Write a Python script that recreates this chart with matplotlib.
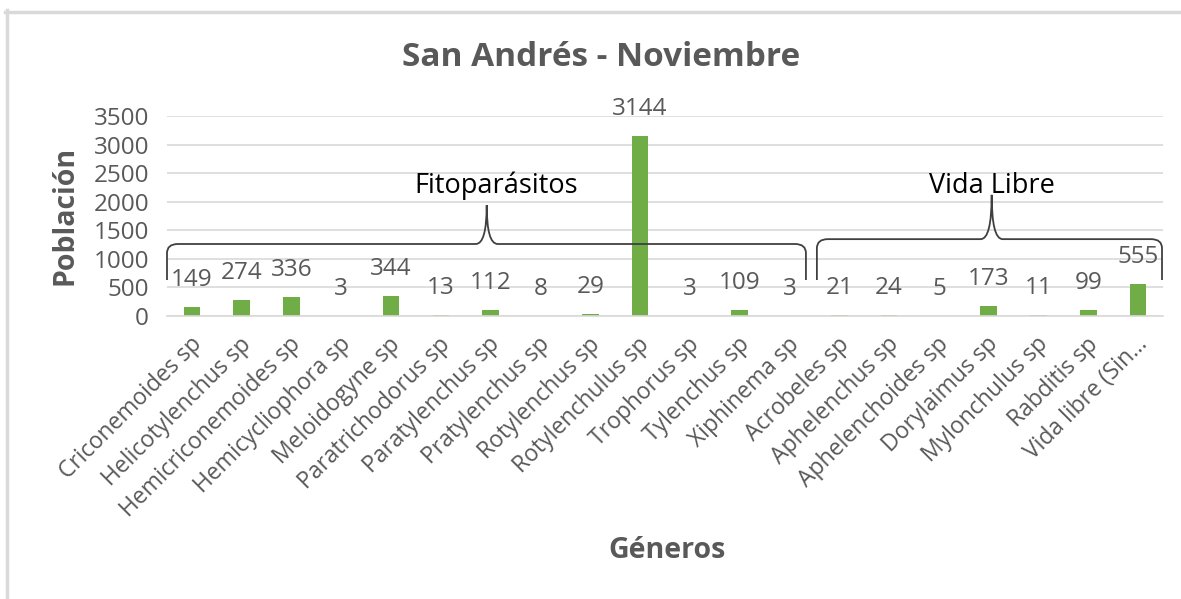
import matplotlib.pyplot as plt
from matplotlib.path import Path
from matplotlib.patches import PathPatch
from matplotlib.lines import Line2D
from matplotlib.transforms import ScaledTranslation

plt.rcParams['font.family'] = ['Open Sans', 'DejaVu Sans']

generos = ["Criconemoides sp", "Helicotylenchus sp", "Hemicriconemoides sp",
           "Hemicycliophora sp", "Meloidogyne sp", "Paratrichodorus sp",
           "Paratylenchus sp", "Pratylenchus sp", "Rotylenchus sp",
           "Rotylenchulus sp", "Trophorus sp", "Tylenchus sp", "Xiphinema sp",
           "Acrobeles sp", "Aphelenchus sp", "Aphelenchoides sp",
           "Dorylaimus sp", "Mylonchulus sp", "Rabditis sp", "Vida libre (Sin…"]
poblacion = [149, 274, 336, 3, 344, 13, 112, 8, 29, 3144, 3, 109, 3,
             21, 24, 5, 173, 11, 99, 555]
grupos = ["Fitoparásitos", "Vida Libre"]

GRAY = '#595959'
GRID = '#D9D9D9'
GREEN = '#70AD47'

fig = plt.figure(figsize=(11.81, 5.99), dpi=100)
ax = fig.add_axes([167 / 1181, 283 / 599, 996 / 1181, 200 / 599])

x = range(len(generos))
ax.bar(x, poblacion, width=0.33, color=GREEN, zorder=2)
for i, v in zip(x, poblacion):
    ax.annotate(str(v), (i, v), xytext=(0, 27), textcoords='offset pixels',
                ha='center', va='center', fontsize=17.5, color=GRAY)

ax.set_xlim(-0.5, len(generos) - 0.5)
ax.set_ylim(0, 3500)
ax.set_yticks(range(0, 3501, 500))
ax.yaxis.grid(True, color=GRID, linewidth=1.2, zorder=0)
ax.set_axisbelow(True)
for s in ['top', 'right', 'left']:
    ax.spines[s].set_visible(False)
ax.spines['bottom'].set_color(GRID)
ax.spines['bottom'].set_linewidth(1.2)
ax.tick_params(axis='both', length=0, labelsize=17.5, labelcolor=GRAY)
ax.tick_params(axis='y', pad=13)
ax.set_xticks(list(x))
ax.set_xticklabels(generos, rotation=45, ha='right', va='center',
                   rotation_mode='anchor', fontsize=16.5)
ax.tick_params(axis='x', pad=18)
shift = ScaledTranslation(6 / 100, 0, fig.dpi_scale_trans)
for lbl in ax.get_xticklabels():
    lbl.set_transform(lbl.get_transform() + shift)


def brace(x0, x1, xm, yh, yend, ypeak, rx=0.22, ry=160):
    verts = [(x0, yend), (x0, yh - ry), (x0, yh), (x0 + rx, yh),
             (xm - rx, yh), (xm, yh), (xm, ypeak),
             (xm, yh), (xm + rx, yh),
             (x1 - rx, yh), (x1, yh), (x1, yh - ry), (x1, yend)]
    codes = [Path.MOVETO, Path.LINETO, Path.CURVE3, Path.CURVE3,
             Path.LINETO, Path.CURVE3, Path.CURVE3,
             Path.CURVE3, Path.CURVE3,
             Path.LINETO, Path.CURVE3, Path.CURVE3, Path.LINETO]
    ax.add_patch(PathPatch(Path(verts, codes), fill=False, edgecolor='#404040',
                           linewidth=1.3, zorder=3, clip_on=False))


brace(-0.5, 12.33, 5.92, 1260, 630, 1940)
brace(12.55, 19.48, 16.06, 1345, 630, 2120)
ax.text(6.12, 2275, grupos[0], ha='center', va='center', fontsize=19.5, color='black')
ax.text(16.06, 2275, grupos[1], ha='center', va='center', fontsize=19.5, color='black')

fig.text(65 / 1181, 1 - 215 / 599, "Población", ha='center', va='center', rotation=90,
         fontsize=20.5, fontweight='bold', color=GRAY)
fig.text(667 / 1181, 1 - 550 / 599, "Géneros", ha='center', va='center',
         fontsize=20.5, fontweight='bold', color=GRAY)
fig.text(601 / 1181, 1 - 58 / 599, "San Andrés - Noviembre", ha='center', va='center',
         fontsize=24, fontweight='bold', color=GRAY)

fig.add_artist(Line2D([6.5 / 1181, 6.5 / 1181], [0, 1 - 10 / 599], color=GRID, linewidth=2.5))
fig.add_artist(Line2D([5 / 1181, 1], [1 - 11.5 / 599, 1 - 11.5 / 599], color=GRID, linewidth=2.5))

fig.savefig('out.png', dpi=100, facecolor='white')
